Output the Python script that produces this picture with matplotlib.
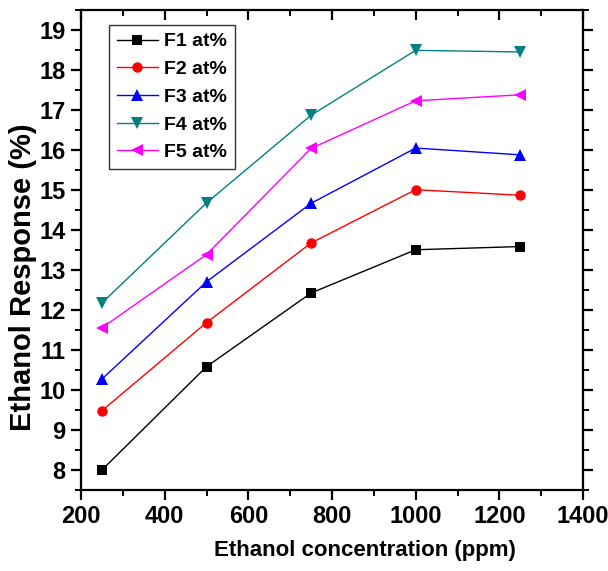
import matplotlib
matplotlib.use("Agg")
import matplotlib.pyplot as plt
from matplotlib.ticker import MultipleLocator

conc = [250, 500, 750, 1000, 1250]
f1 = [8.0, 10.58, 12.42, 13.5, 13.58]
f2 = [9.48, 11.68, 13.67, 15.0, 14.86]
f3 = [10.27, 12.7, 14.66, 16.04, 15.87]
f4 = [12.17, 14.67, 16.86, 18.48, 18.44]
f5 = [11.55, 13.38, 16.03, 17.22, 17.37]
labels = ["F1 at%", "F2 at%", "F3 at%", "F4 at%", "F5 at%"]

plt.rcParams['font.family'] = ['Liberation Sans', 'DejaVu Sans']
plt.rcParams['font.weight'] = 'bold'

fig = plt.figure(figsize=(6.08, 5.71), dpi=100)
ax = fig.add_axes([81/608, 1-490/571, (583-81)/608, (490-9.5)/571])

styles = [
    (f1, 'black', 's', 6.5),
    (f2, 'red', 'o', 7.5),
    (f3, 'blue', '^', 9),
    (f4, '#008080', 'v', 9),
    (f5, '#FF00FF', '<', 9),
]
for (vals, c, m, ms), lab in zip(styles, labels):
    ax.plot(conc, vals, color=c, marker=m, markersize=ms, linewidth=1.0,
            label=lab, markeredgewidth=0)

ax.set_xlim(200, 1400)
ax.set_ylim(7.5, 19.5)
ax.xaxis.set_major_locator(MultipleLocator(200))
ax.xaxis.set_minor_locator(MultipleLocator(100))
ax.yaxis.set_major_locator(MultipleLocator(1))
ax.yaxis.set_minor_locator(MultipleLocator(0.5))

for s in ax.spines.values():
    s.set_linewidth(1.6)

ax.tick_params(axis='both', which='major', direction='out', length=7, width=1.6,
               labelsize=17, pad=4)
ax.tick_params(axis='both', which='minor', direction='out', length=4, width=1.4)
ax.tick_params(axis='x', which='both', top=True)
ax.tick_params(axis='y', which='both', right=True)
# top/right ticks inward
for t in ax.xaxis.get_major_ticks() + ax.xaxis.get_minor_ticks():
    t.tick2line.set_marker(3)  # TICKDOWN
for t in ax.yaxis.get_major_ticks() + ax.yaxis.get_minor_ticks():
    t.tick2line.set_marker(1)  # TICKLEFT
for lbl in ax.get_xticklabels() + ax.get_yticklabels():
    lbl.set_fontweight('bold')

ax.set_xlabel("Ethanol concentration (ppm)", fontsize=16, fontweight='bold')
ax.set_ylabel("Ethanol Response (%)", fontsize=21, fontweight='bold')
ax.xaxis.set_label_coords((365-81)/502, (490-540)/480.5)
ax.yaxis.set_label_coords((37-81)/502, (490-277)/480.5)

leg = ax.legend(loc='upper left', bbox_to_anchor=((109-81)/502, (490-25)/480.5),
                frameon=True, fancybox=False, edgecolor='black',
                prop={'weight': 'bold', 'size': 14}, handlelength=2.1,
                handletextpad=0.35, labelspacing=0.52, borderpad=0.4,
                borderaxespad=0)
leg.get_frame().set_linewidth(1.0)

fig.savefig("out.png", dpi=100)
